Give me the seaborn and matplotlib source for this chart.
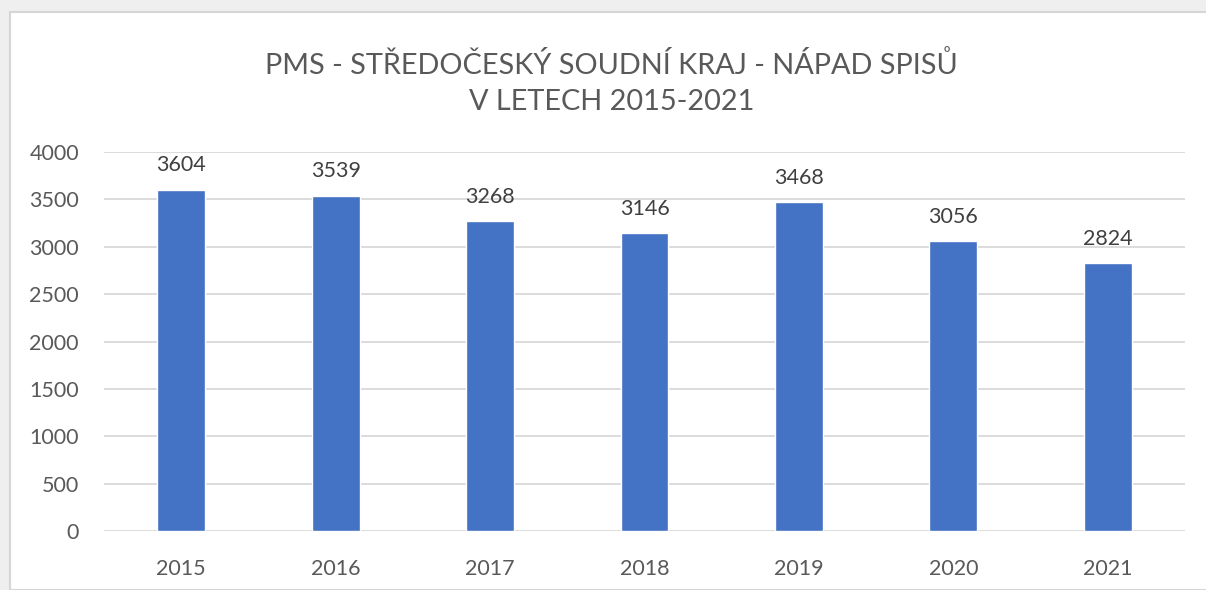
import matplotlib
matplotlib.use("Agg")
import matplotlib.pyplot as plt
import seaborn as sns
import pandas as pd
from matplotlib.patches import Rectangle


years = ["2015", "2016", "2017", "2018", "2019", "2020", "2021"]
values = [3604, 3539, 3268, 3146, 3468, 3056, 2824]
y_ticks = [0, 500, 1000, 1500, 2000, 2500, 3000, 3500, 4000]

title = "PMS - STŘEDOČESKÝ SOUDNÍ KRAJ - NÁPAD SPISŮ\nV LETECH 2015-2021"

df = pd.DataFrame({"rok": years, "pocet": values})

sns.set_theme(style="white")
plt.rcParams["font.family"] = ["Lato", "DejaVu Sans"]

text_color = "#595959"

fig = plt.figure(figsize=(12.06, 5.9), dpi=100)
fig.patch.set_facecolor("#EFEFEF")

# white chart box
fig.patches.append(
    Rectangle(
        (10 / 1206, 0), 1.0, 1 - 12 / 590,
        transform=fig.transFigure,
        facecolor="white",
        edgecolor="#D6D6D6",
        linewidth=1.5,
        zorder=0
    )
)

ax = fig.add_axes([104 / 1206, 1 - 531 / 590, 1081 / 1206, 379 / 590])
ax.set_facecolor("none")
ax.set_zorder(2)

sns.barplot(
    data=df,
    x="rok",
    y="pocet",
    color="#4472C4",
    saturation=1,
    width=0.31,
    ax=ax,
    zorder=3
)

for i, v in enumerate(values):
    ax.text(
        i, v + 150, str(v),
        ha="center", va="bottom",
        fontsize=15.5, color="#404040"
    )

ax.set_ylim(0, 4000)
ax.set_yticks(y_ticks)
ax.yaxis.grid(True, color="#D9D9D9", linewidth=1.3, zorder=0)
ax.set_axisbelow(True)

for s in ax.spines.values():
    s.set_visible(False)

ax.tick_params(axis="both", length=0, labelsize=15.5, labelcolor=text_color)
ax.tick_params(axis="y", pad=18)
ax.tick_params(axis="x", pad=20)
ax.set_xlabel("")
ax.set_ylabel("")

fig.text(
    611.5 / 1206, 1 - 83 / 590, title,
    ha="center", va="center",
    fontsize=20.8, color=text_color,
    linespacing=1.45,
    zorder=5
)

plt.savefig("out.png", dpi=100, facecolor=fig.get_facecolor())
plt.close()
